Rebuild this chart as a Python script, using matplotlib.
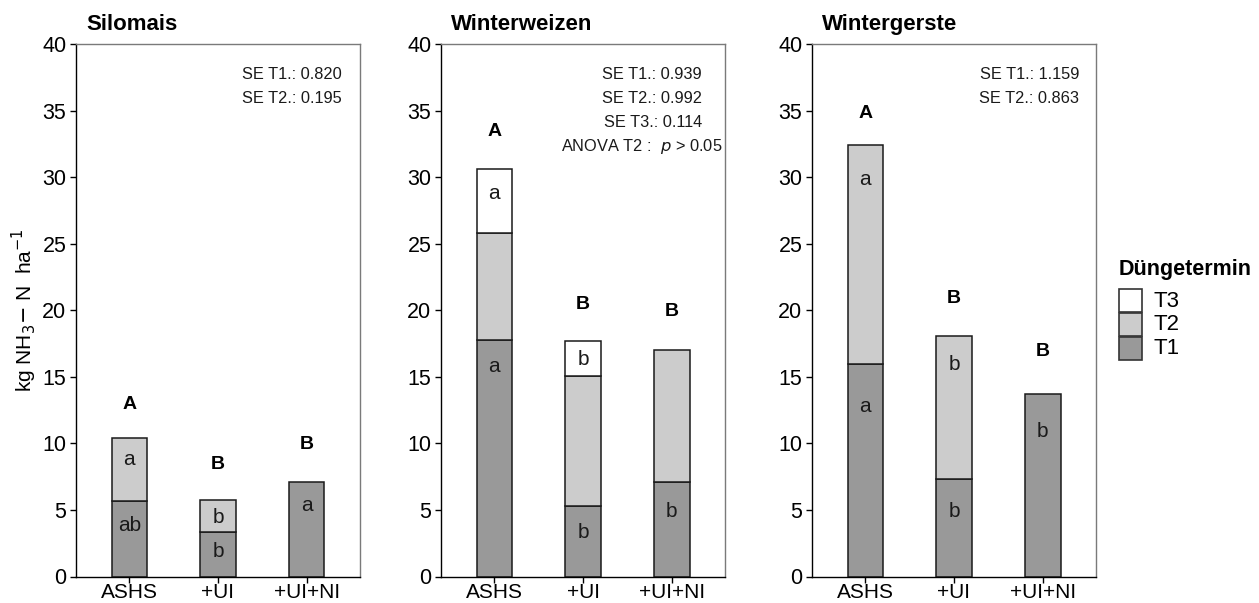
import numpy as np
import matplotlib.pyplot as plt
from matplotlib.patches import Rectangle

plt.rcParams['font.family'] = ['Liberation Sans', 'DejaVu Sans']

crops = ["Silomais", "Winterweizen", "Wintergerste"]
treatments = ["ASHS", "+UI", "+UI+NI"]

# NH3 losses per fertilisation date (kg NH3-N/ha), one list per crop
silomais_t1 = [5.7, 3.36, 7.07]
silomais_t2 = [4.67, 2.38, 0.0]
silomais_t3 = [0.0, 0.0, 0.0]

winterweizen_t1 = [17.8, 5.29, 7.07]
winterweizen_t2 = [8.04, 9.76, 9.98]
winterweizen_t3 = [4.76, 2.61, 0.0]

wintergerste_t1 = [15.95, 7.34, 13.7]
wintergerste_t2 = [16.45, 10.74, 0.0]
wintergerste_t3 = [0.0, 0.0, 0.0]

# significance letters (total, T1, T2, T3)
silomais_total_letters = ["A", "B", "B"]
silomais_t1_letters = ["ab", "b", "a"]
silomais_t2_letters = ["a", "b", ""]
silomais_t3_letters = ["", "", ""]

winterweizen_total_letters = ["A", "B", "B"]
winterweizen_t1_letters = ["a", "b", "b"]
winterweizen_t2_letters = ["", "", ""]
winterweizen_t3_letters = ["a", "b", ""]

wintergerste_total_letters = ["A", "B", "B"]
wintergerste_t1_letters = ["a", "b", "b"]
wintergerste_t2_letters = ["a", "b", ""]
wintergerste_t3_letters = ["", "", ""]

silomais_se = ["SE T1.: 0.820", "SE T2.: 0.195"]
winterweizen_se = ["SE T1.: 0.939", "SE T2.: 0.992", "SE T3.: 0.114"]
wintergerste_se = ["SE T1.: 1.159", "SE T2.: 0.863"]

legend_labels = ["T3", "T2", "T1"]

data = {
    "Silomais": (silomais_t1, silomais_t2, silomais_t3),
    "Winterweizen": (winterweizen_t1, winterweizen_t2, winterweizen_t3),
    "Wintergerste": (wintergerste_t1, wintergerste_t2, wintergerste_t3),
}
letters = {
    "Silomais": (silomais_total_letters, silomais_t1_letters, silomais_t2_letters, silomais_t3_letters),
    "Winterweizen": (winterweizen_total_letters, winterweizen_t1_letters, winterweizen_t2_letters, winterweizen_t3_letters),
    "Wintergerste": (wintergerste_total_letters, wintergerste_t1_letters, wintergerste_t2_letters, wintergerste_t3_letters),
}
se_texts = {"Silomais": silomais_se, "Winterweizen": winterweizen_se, "Wintergerste": wintergerste_se}

# label heights for the letters (y in data units)
letter_y = {
    "Silomais": ([12.9, 8.4, 9.95], [3.8, 1.9, 5.3], [8.8, 4.4, 0], [0, 0, 0]),
    "Winterweizen": ([33.4, 20.4, 19.9], [15.8, 3.3, 4.87], [0, 0, 0], [28.8, 16.3, 0]),
    "Wintergerste": ([34.8, 20.9, 16.9], [12.8, 4.87, 10.87], [29.8, 15.9, 0], [0, 0, 0]),
}
se_right = {"Silomais": 3.39, "Winterweizen": 3.34, "Wintergerste": 3.41}

colors = ["#999999", "#cccccc", "#ffffff"]

W, H = 1259, 603
fig = plt.figure(figsize=(W / 100, H / 100), dpi=100)
lefts = [76, 441, 812]
ax_w, top_px, bot_px = 284, 44, 576.5

x = np.arange(1, 4)
for crop, left in zip(crops, lefts):
    ax = fig.add_axes([left / W, 1 - bot_px / H, ax_w / W, (bot_px - top_px) / H])
    segs = data[crop]
    bottom = np.zeros(3)
    for k, seg in enumerate(segs):
        seg = np.array(seg)
        m = seg > 0
        ax.bar(x[m], seg[m], bottom=bottom[m], width=0.4, color=colors[k],
               edgecolor="#1a1a1a", linewidth=1.1, zorder=2)
        for i in range(3):
            lab = letters[crop][k + 1][i]
            if lab:
                ax.text(x[i], letter_y[crop][k + 1][i], lab, ha="center", va="center",
                        fontsize=15, color="#1a1a1a", zorder=3)
        bottom += seg
    for i in range(3):
        ax.text(x[i], letter_y[crop][0][i], letters[crop][0][i], ha="center", va="center",
                fontsize=14, fontweight="bold")

    for j, s in enumerate(se_texts[crop]):
        ax.text(se_right[crop], 37.7 - 1.8 * j, s, ha="right", va="center", fontsize=11.8,
                color="#1a1a1a")
    if crop == "Winterweizen":
        ax.text(3.57, 37.7 - 1.8 * 3, r"ANOVA T2 :  $p$ > 0.05", ha="right", va="center",
                fontsize=11.8, color="#1a1a1a")

    ax.set_xlim(0.4, 3.6)
    ax.set_ylim(0, 40)
    ax.set_yticks(np.arange(0, 41, 5))
    ax.set_xticks(x)
    ax.set_xticklabels(treatments)
    ax.tick_params(labelsize=15.5, length=4, width=1, color="black", pad=3)
    ax.tick_params(axis="x", labelsize=15, pad=1)
    for side in ["left", "bottom"]:
        ax.spines[side].set_color("black")
        ax.spines[side].set_linewidth(1.0)
    for side in ["top", "right"]:
        ax.spines[side].set_color("#7a7a7a")
        ax.spines[side].set_linewidth(1.0)
    fig.text((left + 10) / W, 1 - 30 / H, crop, fontsize=16, fontweight="bold",
             ha="left", va="baseline")

fig.text(24 / W, 0.5 * (1 - top_px / H + 1 - bot_px / H),
         r"kg NH$_3$$-$ N  ha$^{-1}$", rotation=90, ha="center", va="center", fontsize=15)

# legend for the fertilisation dates
fig.text(1119 / W, 1 - 275 / H, "Düngetermin", fontsize=15.5, fontweight="bold",
         ha="left", va="baseline")
legend_colors = [colors[2], colors[1], colors[0]]
for r, (lab, c) in enumerate(zip(legend_labels, legend_colors)):
    y0 = 289 + 24 * r
    fig.patches.append(Rectangle((1119 / W, 1 - (y0 + 23) / H), 23 / W, 23 / H,
                                 transform=fig.transFigure, facecolor=c,
                                 edgecolor="#333333", linewidth=1.2))
    fig.text(1153 / W, 1 - (y0 + 12) / H, lab, fontsize=16, ha="left", va="center")

fig.savefig("out.png", dpi=100)
